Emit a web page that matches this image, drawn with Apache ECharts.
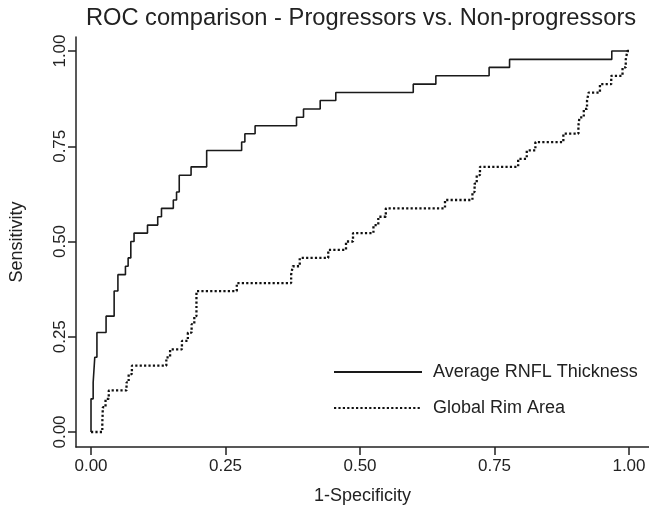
<!DOCTYPE html>
<html>
<head>
<meta charset="utf-8">
<script src="https://cdn.jsdelivr.net/npm/echarts@6/dist/echarts.min.js"></script>
<style>
  html, body { margin: 0; padding: 0; background: #fff; }
  #chart { width: 649px; height: 512px; }
</style>
</head>
<body>
<div id="chart"></div>
<script>
// ---- data ----
const chartTitle = 'ROC comparison - Progressors vs. Non-progressors';
const xAxisName = '1-Specificity';
const yAxisName = 'Sensitivity';
const tickValues = [0, 0.25, 0.5, 0.75, 1];
const seriesNames = ['Average RNFL Thickness', 'Global Rim Area'];

const rnflFpr = [0, 0, 0.004, 0.007, 0.011, 0.028, 0.043, 0.050, 0.064, 0.069, 0.074, 0.080, 0.105, 0.124, 0.131, 0.153, 0.159, 0.164, 0.186, 0.215, 0.280, 0.286, 0.305, 0.382, 0.395, 0.426, 0.455, 0.599, 0.641, 0.740, 0.778, 0.968, 1.0];
const rnflTpr = [0, 0.087, 0.130, 0.196, 0.261, 0.304, 0.370, 0.413, 0.435, 0.457, 0.500, 0.522, 0.543, 0.565, 0.587, 0.609, 0.630, 0.674, 0.696, 0.739, 0.761, 0.783, 0.804, 0.826, 0.848, 0.870, 0.891, 0.913, 0.935, 0.957, 0.978, 1.0, 1.0];

const rimFpr = [0, 0.021, 0.022, 0.027, 0.033, 0.066, 0.070, 0.076, 0.140, 0.147, 0.169, 0.180, 0.187, 0.192, 0.196, 0.196, 0.271, 0.372, 0.375, 0.388, 0.441, 0.474, 0.487, 0.525, 0.534, 0.548, 0.658, 0.709, 0.713, 0.717, 0.723, 0.794, 0.810, 0.826, 0.878, 0.906, 0.908, 0.916, 0.922, 0.925, 0.946, 0.967, 0.988, 0.994, 0.997, 1.0];
const rimTpr = [0, 0.022, 0.065, 0.087, 0.109, 0.130, 0.152, 0.174, 0.196, 0.217, 0.239, 0.261, 0.283, 0.304, 0.326, 0.370, 0.391, 0.413, 0.435, 0.457, 0.478, 0.500, 0.522, 0.543, 0.565, 0.587, 0.609, 0.630, 0.652, 0.674, 0.696, 0.717, 0.739, 0.761, 0.783, 0.804, 0.826, 0.848, 0.870, 0.891, 0.913, 0.935, 0.957, 0.978, 1.0, 1.0];

// ---- chart ----
const FONT = '"Liberation Sans", Arial, Helvetica, sans-serif';
const INK = '#222';
const zip = (a, b) => a.map((v, i) => [v, b[i]]);

const chart = echarts.init(document.getElementById('chart'), null, { renderer: 'canvas' });

const axisCommon = {
  type: 'value',
  nameLocation: 'middle',
  nameTextStyle: { fontSize: 18, color: INK, fontFamily: FONT },
  axisLine: { show: true, onZero: false, lineStyle: { color: INK, width: 1.5 } },
  axisTick: { show: true, customValues: tickValues, length: 8, lineStyle: { color: INK, width: 1.5 } },
  splitLine: { show: false }
};

chart.setOption({
  animation: false,
  backgroundColor: '#ffffff',
  textStyle: { fontFamily: FONT },
  title: {
    text: chartTitle,
    left: 361,
    textAlign: 'center',
    top: 6,
    padding: 0,
    textStyle: { fontSize: 23.7, fontWeight: 'normal', color: INK, fontFamily: FONT }
  },
  legend: {
    data: seriesNames,
    orient: 'vertical',
    left: 333,
    top: 363,
    padding: 0,
    itemWidth: 88,
    itemHeight: 14,
    itemGap: 18,
    selectedMode: false,
    itemStyle: { color: 'rgba(0,0,0,0)', borderWidth: 0, opacity: 0 },
    textStyle: { fontSize: 18, color: INK, fontFamily: FONT, padding: [0, 0, 0, 6] }
  },
  grid: { left: 76, right: 0, top: 37, bottom: 65 },
  xAxis: Object.assign({}, axisCommon, {
    min: -0.0279,
    max: 1.0372,
    name: xAxisName,
    nameGap: 40,
    axisLabel: {
      customValues: tickValues,
      formatter: v => v.toFixed(2),
      margin: 11,
      fontSize: 17,
      color: INK,
      fontFamily: FONT
    }
  }),
  yAxis: Object.assign({}, axisCommon, {
    min: -0.0394,
    max: 1.0368,
    name: yAxisName,
    nameGap: 50,
    axisLabel: {
      customValues: tickValues,
      formatter: v => v.toFixed(2),
      rotate: 90,
      margin: 7,
      fontSize: 17,
      color: INK,
      fontFamily: FONT
    }
  }),
  series: [
    {
      name: seriesNames[0],
      type: 'line',
      step: 'end',
      symbol: 'none',
      data: zip(rnflFpr, rnflTpr),
      lineStyle: { color: '#1a1a1a', width: 1.6, type: 'solid' },
      itemStyle: { color: '#1a1a1a' }
    },
    {
      name: seriesNames[1],
      type: 'line',
      step: 'end',
      symbol: 'none',
      data: zip(rimFpr, rimTpr),
      lineStyle: { color: '#111', width: 2.3, type: [2.2, 2.2], cap: 'butt' },
      itemStyle: { color: '#111' }
    }
  ]
});
</script>
</body>
</html>
